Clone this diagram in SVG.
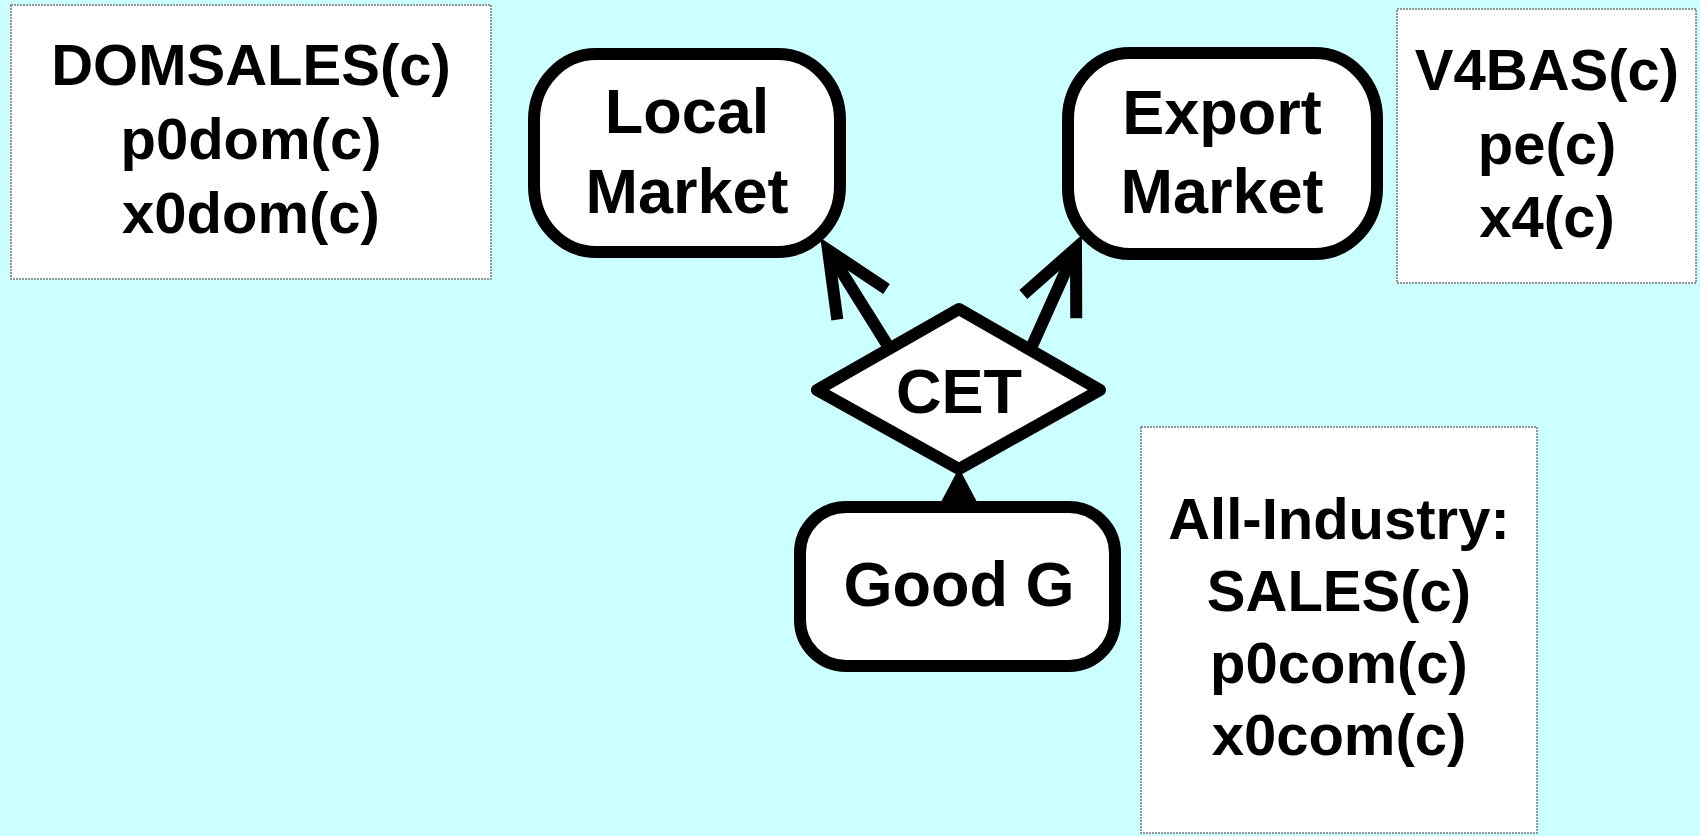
<svg xmlns="http://www.w3.org/2000/svg" width="1700" height="836" viewBox="0 0 1700 836">
  <style>
    .node { fill: #ffffff; stroke: #000000; stroke-width: 12; stroke-linejoin: round; }
    .note { fill: #ffffff; stroke: #777777; stroke-width: 1.5; stroke-dasharray: 2 1; }
    .lbl { font-family: "Liberation Sans", Arial, sans-serif; font-weight: bold; fill: #000000; text-anchor: middle; }
    .big { font-size: 63px; }
    .small { font-size: 58px; }
    .edge { fill: none; stroke: #000000; stroke-width: 12; }
  </style>
  <defs>
    <!-- open V arrowhead, tip at origin -->
    <marker id="openArrow" markerUnits="userSpaceOnUse" orient="auto" refX="0" refY="0"
            markerWidth="100" markerHeight="100" viewBox="-80 -50 100 100" overflow="visible">
      <path d="M -64 -29 L 0 0 L -64 29" fill="none" stroke="#000000" stroke-width="12" stroke-linejoin="miter" stroke-miterlimit="10"/>
    </marker>
  </defs>

  <rect x="0" y="0" width="1700" height="836" fill="#ccffff"/>

  <!-- variable notes -->
  <g id="note-domestic">
    <rect class="note" x="11" y="5" width="480" height="274"/>
    <text class="lbl small" x="251" y="85">DOMSALES(c)</text>
    <text class="lbl small" x="251" y="159">p0dom(c)</text>
    <text class="lbl small" x="251" y="233">x0dom(c)</text>
  </g>

  <g id="note-export">
    <rect class="note" x="1397" y="9" width="299" height="274"/>
    <text class="lbl small" x="1547" y="90">V4BAS(c)</text>
    <text class="lbl small" x="1547" y="164">pe(c)</text>
    <text class="lbl small" x="1547" y="237">x4(c)</text>
  </g>

  <g id="note-industry">
    <rect class="note" x="1141" y="427" width="396" height="406"/>
    <text class="lbl small" x="1339" y="539">All-Industry:</text>
    <text class="lbl small" x="1339" y="611">SALES(c)</text>
    <text class="lbl small" x="1339" y="683">p0com(c)</text>
    <text class="lbl small" x="1339" y="755">x0com(c)</text>
  </g>

  <!-- connectors -->
  <g id="connectors">
    <line class="edge" x1="888" y1="346" x2="828" y2="250" marker-end="url(#openArrow)"/>
    <line class="edge" x1="1032" y1="346" x2="1076" y2="248" marker-end="url(#openArrow)"/>
    <polygon points="941,502 977,502 959,468" fill="#000000"/>
  </g>

  <!-- market nodes -->
  <g id="local-market">
    <rect class="node" x="534" y="54" width="306" height="198" rx="62" ry="66"/>
    <text class="lbl big" x="687" y="133">Local</text>
    <text class="lbl big" x="687" y="213">Market</text>
  </g>

  <g id="export-market">
    <rect class="node" x="1068" y="53" width="309" height="201" rx="62" ry="66"/>
    <text class="lbl big" x="1222" y="134">Export</text>
    <text class="lbl big" x="1222" y="213">Market</text>
  </g>

  <!-- transformation node -->
  <g id="cet">
    <polygon class="node" points="959,309 1100,390 959,469 817,390"/>
    <text class="lbl big" x="959" y="413">CET</text>
  </g>

  <!-- source good -->
  <g id="good-g">
    <rect class="node" x="800" y="507" width="315" height="159" rx="46" ry="46"/>
    <text class="lbl big" x="959" y="606">Good G</text>
  </g>
</svg>
